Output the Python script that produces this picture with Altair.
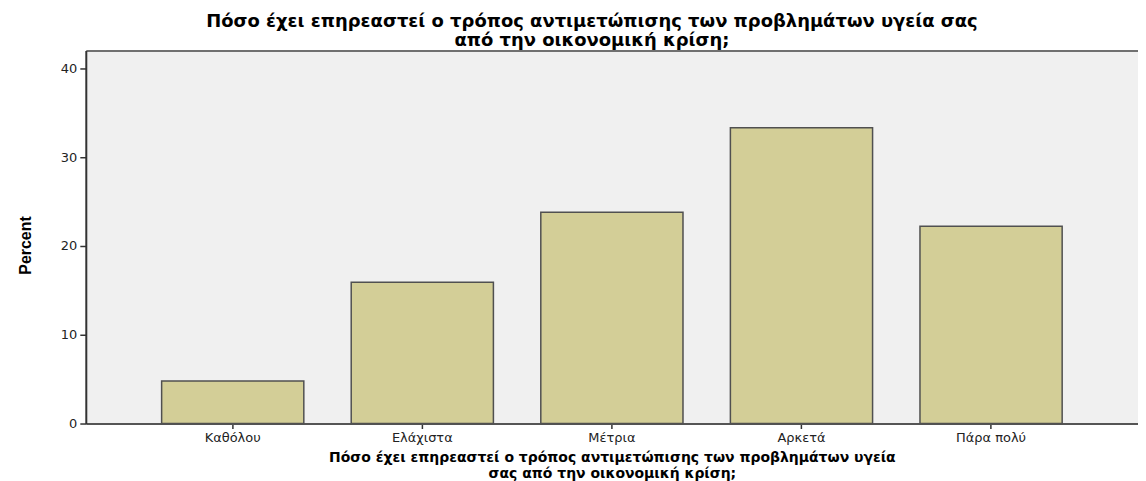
import altair as alt
import pandas as pd

categories = ["Καθόλου", "Ελάχιστα", "Μέτρια", "Αρκετά", "Πάρα πολύ"]
percents = [4.8, 15.9, 23.8, 33.3, 22.2]
y_ticks = [0, 10, 20, 30, 40]

title_lines = [
    "Πόσο έχει επηρεαστεί ο τρόπος  αντιμετώπισης των προβλημάτων  υγεία σας",
    "από την οικονομική κρίση;",
]
xtitle_lines = [
    "Πόσο έχει επηρεαστεί ο τρόπος  αντιμετώπισης των προβλημάτων  υγεία",
    "σας από την οικονομική κρίση;",
]

df = pd.DataFrame({"cat": categories, "pct": percents})

xscale = alt.Scale(domain=categories, paddingInner=0.25, paddingOuter=0.4)
yscale = alt.Scale(domain=[0, 42], nice=False, zero=True)

y_axis = alt.Axis(
    title="Percent", values=y_ticks, grid=False,
    labelFont="DejaVu Sans", labelFontSize=13, labelColor="#222222",
    labelPadding=3, tickSize=6, tickColor="#333333", tickWidth=1.5,
    domainColor="#333333", domainWidth=2,
    titleFont="Liberation Sans", titleFontSize=16,
    titleFontWeight="bold", titleColor="black",
    titleX=-52, titleY=195,
)

bars = alt.Chart(df).mark_bar(
    color="#d3ce97", stroke="#505050", strokeWidth=1.5
).encode(
    x=alt.X(
        "cat:N", sort=categories, scale=xscale,
        axis=alt.Axis(
            title=xtitle_lines, labelAngle=0, labelFont="DejaVu Sans",
            labelFontSize=13, labelColor="#222222", labelPadding=3,
            tickSize=5, tickColor="#333333", tickWidth=1.5,
            domainColor="#555555", domainWidth=2,
            titleFont="DejaVu Sans", titleFontSize=14, titleFontWeight="bold",
            titleColor="black", titleLineHeight=16, titlePadding=6,
        ),
    ),
    y=alt.Y("pct:Q", scale=yscale, axis=y_axis),
)

top_border = alt.Chart(df).mark_bar(opacity=0).encode(
    x=alt.X(
        "cat:N", sort=categories, scale=xscale,
        axis=alt.Axis(orient="top", labels=False, ticks=False, title=None,
                      domainColor="#707070", domainWidth=2),
    ),
    y=alt.Y("pct:Q", scale=yscale, axis=y_axis),
)

chart = alt.layer(bars, top_border).resolve_axis(x="independent").properties(
    width=1055,
    height=374,
    padding={"left": 10, "top": 4, "right": 0, "bottom": 0},
    title=alt.Title(
        title_lines, font="DejaVu Sans", fontSize=18, fontWeight="bold",
        color="black", lineHeight=19, anchor="middle", offset=1, dx=-20,
    ),
).configure_view(stroke=None, fill="#f0f0f0")

chart.save("out.html", embed_options={"renderer": "svg", "actions": False})
